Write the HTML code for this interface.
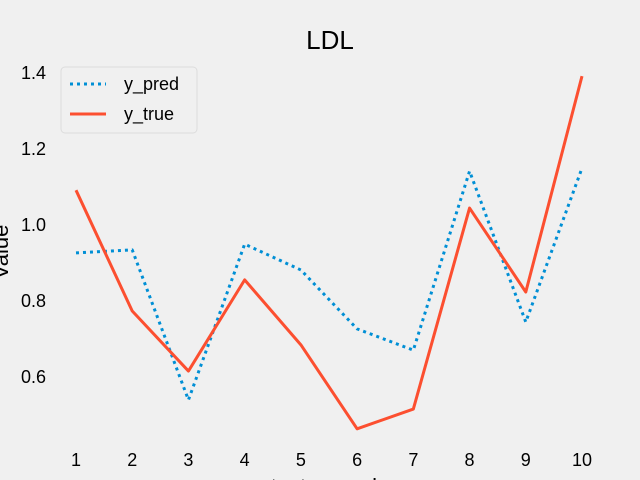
<!DOCTYPE html>
<html><head><meta charset="utf-8"><style>
body{margin:0;background:#f0f0f0;}
svg{display:block;font-family:"Liberation Sans","DejaVu Sans",sans-serif;}
</style></head><body>
<svg id="chart" width="640" height="480">
<rect width="640" height="480" fill="#f0f0f0"/>
<text x="330" y="49" font-size="26" text-anchor="middle" fill="#000">LDL</text>
<g id="yticks"></g><g id="xticks"></g><g id="lines"></g>
<text x="330" y="494" font-size="22" text-anchor="middle">test_sample</text>
<text transform="translate(8,252) rotate(-90)" font-size="22" text-anchor="middle">Value</text>
<g>
<rect x="61" y="67" width="136" height="66" rx="4" fill="#f0f0f0" stroke="#dcdcdc"/>
<line x1="70" y1="84" x2="106" y2="84" stroke="#008fd5" stroke-width="3" stroke-dasharray="3,4"/>
<text x="124" y="90" font-size="18">y_pred</text>
<line x1="70" y1="114" x2="106" y2="114" stroke="#fc4f30" stroke-width="3"/>
<text x="124" y="120" font-size="18">y_true</text>
</g>
</svg>
<script>
const categories=[1,2,3,4,5,6,7,8,9,10];
const yPred=[0.924,0.932,0.537,0.947,0.879,0.724,0.668,1.139,0.742,1.147];
const yTrue=[1.089,0.771,0.613,0.853,0.682,0.461,0.513,1.042,0.821,1.389];
const yTickLabels=[0.6,0.8,1.0,1.2,1.4];
const NS="http://www.w3.org/2000/svg";
function xs(v){return 76+(v-1)*(582-76)/9;}
function ys(v){return 224-(v-1.0)*380;}
function mk(tag,attrs,parent){const e=document.createElementNS(NS,tag);for(const k in attrs)e.setAttribute(k,attrs[k]);parent.appendChild(e);return e;}
const yt=document.getElementById('yticks');
yTickLabels.forEach(v=>{const t=mk('text',{x:46,y:ys(v)+7,'font-size':18,'text-anchor':'end'},yt);t.textContent=v.toFixed(1);

});
const xt=document.getElementById('xticks');
categories.forEach(c=>{const t=mk('text',{x:xs(c),y:466,'font-size':18,'text-anchor':'middle'},xt);t.textContent=c;

});
const lg=document.getElementById('lines');
function line(vals,color,dash,name){const pts=vals.map((v,i)=>xs(categories[i])+','+ys(v)).join(' ');
const p=mk('polyline',{points:pts,fill:'none',stroke:color,'stroke-width':3,'stroke-linejoin':'round'},lg);
if(dash)p.setAttribute('stroke-dasharray',dash);

}
line(yPred,'#008fd5','3,4','y-pred-line');
line(yTrue,'#fc4f30',null,'y-true-line');
</script>
</body></html>
